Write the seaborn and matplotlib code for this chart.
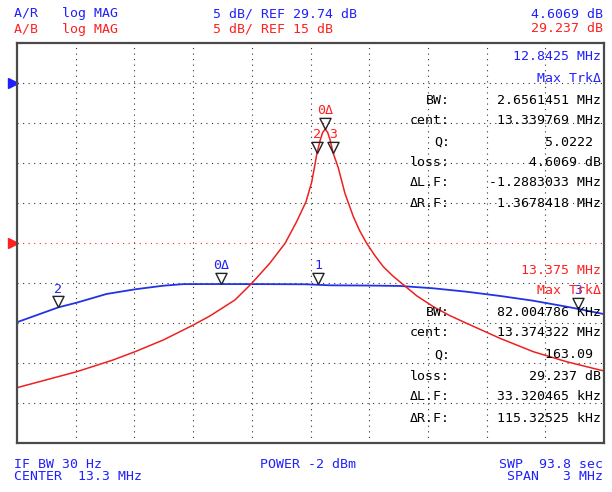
import numpy as np
import matplotlib
matplotlib.use("Agg")
import matplotlib.pyplot as plt
import seaborn as sns

# ---------------------------------------------------------------- DATA
F_START, F_STOP = 11.8, 14.8          # CENTER 13.3 MHz, SPAN 3 MHz
N_DIV = 10

# CH1  A/R log MAG, 5 dB/div, REF 29.74 dB at division 9
CH1_SCALE, CH1_REF, CH1_REFPOS = 5.0, 29.74, 9
ch1_freq = [11.80, 11.807, 12.012, 12.105, 12.258, 12.403, 12.547, 12.650, 12.848,
            13.050, 13.277, 13.400, 13.600, 13.757, 13.926, 14.098, 14.269, 14.437,
            14.609, 14.668, 14.780, 14.80]
ch1_db = [-0.20, -0.10, 1.70, 2.28, 3.37, 3.95, 4.40, 4.60, 4.607,
          4.60, 4.58, 4.45, 4.42, 4.37, 4.08, 3.65, 3.12, 2.53,
          1.78, 1.50, 0.95, 0.85]

# CH2  A/B log MAG, 5 dB/div, REF 15 dB at division 5
CH2_SCALE, CH2_REF, CH2_REFPOS = 5.0, 15.0, 5
ch2_freq = [11.80, 11.807, 12.105, 12.291, 12.403, 12.548, 12.701, 12.786, 12.914,
            12.999, 13.093, 13.170, 13.229, 13.277, 13.306, 13.322, 13.333, 13.350,
            13.362, 13.375, 13.388, 13.400, 13.415, 13.442, 13.476, 13.519, 13.550,
            13.587, 13.630, 13.672, 13.720, 13.766, 13.844, 13.928, 14.010, 14.098,
            14.268, 14.439, 14.609, 14.780, 14.80]
ch2_db = [-3.10, -3.04, -1.09, 0.38, 1.41, 2.88, 4.75, 5.88, 7.88,
          9.94, 12.50, 14.96, 17.66, 20.16, 22.60, 24.70, 26.24, 27.90,
          28.80, 29.237, 28.80, 27.90, 26.30, 24.40, 21.21, 18.29, 16.60,
          14.96, 13.40, 12.04, 10.90, 9.96, 8.38, 7.04, 5.95, 4.96,
          3.09, 1.41, 0.16, -0.88, -0.98]

# markers
ch1_mk_freq = [12.8425, 13.3398, 12.0116, 14.668]
ch1_mk_db = [4.607, 4.58, 1.70, 1.50]
ch1_mk_lbl = ["0Δ", "1", "2", "3"]
ch2_mk_freq = [13.375, 13.3333, 13.4153]
ch2_mk_db = [29.237, 26.24, 26.24]
ch2_mk_lbl = ["0Δ", "2", "3"]

ch1_rows = [("BW:", "2.6561451 MHz"), ("cent:", "13.339769 MHz"), ("Q:", "5.0222 "),
            ("loss:", "4.6069 dB"), ("ΔL.F:", "-1.2883033 MHz"), ("ΔR.F:", "1.3678418 MHz")]
ch2_rows = [("BW:", "82.004786 KHz"), ("cent:", "13.374322 MHz"), ("Q:", "163.09 "),
            ("loss:", "29.237 dB"), ("ΔL.F:", "33.320465 kHz"), ("ΔR.F:", "115.32525 kHz")]

BLUE, RED = "#2020ff", "#ff2020"
BLUE_LN, RED_LN = "#2233e6", "#ee2020"


def to_div(db, scale, ref, refpos):
    return refpos + (np.asarray(db) - ref) / scale


ch1_div = to_div(ch1_db, CH1_SCALE, CH1_REF, CH1_REFPOS)
ch2_div = to_div(ch2_db, CH2_SCALE, CH2_REF, CH2_REFPOS)

# ---------------------------------------------------------------- FIGURE
sns.set_style("white")
plt.rcParams["font.family"] = ["DejaVu Sans Mono", "DejaVu Sans"]
FS = 9.5
W, H = 612, 492
fig = plt.figure(figsize=(W / 100, H / 100), dpi=100)
ax = fig.add_axes([17 / W, (H - 443) / H, 587 / W, 400 / H])


def fx(x, y):
    return x / W, 1 - y / H


# graticule
ax.set_xlim(F_START, F_STOP); ax.set_ylim(0, N_DIV)
ax.set_xticks(np.linspace(F_START, F_STOP, N_DIV + 1)[1:-1])
ax.set_yticks([d for d in range(1, N_DIV) if d != CH2_REFPOS])
ax.grid(True, ls=(0, (1, 4)), lw=0.8, color="#333333")
ax.axhline(CH2_REFPOS, ls=(0, (1, 4)), lw=0.8, color=RED)
ax.tick_params(length=0, labelbottom=False, labelleft=False)
ax.set_xlabel(""); ax.set_ylabel("")
for s in ax.spines.values():
    s.set_color("#4a4a4a"); s.set_linewidth(1.6)

# traces
sns.lineplot(x=ch1_freq, y=ch1_div, ax=ax, color=BLUE_LN, lw=1.3, sort=False, estimator=None)
sns.lineplot(x=ch2_freq, y=ch2_div, ax=ax, color=RED_LN, lw=1.1, sort=False, estimator=None)

# reference position arrows (left of graticule)
yt = ax.get_yaxis_transform()
ax.plot([-0.007], [CH1_REFPOS], marker=">", ms=7, color=BLUE, transform=yt, clip_on=False)
ax.plot([-0.007], [CH2_REFPOS], marker=">", ms=7, color=RED, transform=yt, clip_on=False)

# marker triangles (tip on trace) + labels
tri = [(0, 0), (-0.5, 1), (0.5, 1), (0, 0)]
for fr, dv, lb, col in list(zip(ch1_mk_freq, to_div(ch1_mk_db, CH1_SCALE, CH1_REF, CH1_REFPOS),
                                ch1_mk_lbl, [BLUE] * 4)) + \
        list(zip(ch2_mk_freq, to_div(ch2_mk_db, CH2_SCALE, CH2_REF, CH2_REFPOS),
                 ch2_mk_lbl, [RED] * 3)):
    ax.plot([fr], [dv], marker=tri, ms=16, mfc="none", mec="#222222", mew=1.0, zorder=5)
    ax.annotate(lb, (fr, dv), xytext=(0, 8.5), textcoords="offset points",
                ha="center", va="bottom", color=col, fontsize=FS, zorder=6)

# readout blocks
fig.text(*fx(601, 56), "12.8425 MHz", color=BLUE, fontsize=FS, ha="right", va="center")
fig.text(*fx(601, 78), "Max TrkΔ", color=BLUE, fontsize=FS, ha="right", va="center")
for (lab, val), y in zip(ch1_rows, [100, 121, 142, 162, 183, 204]):
    fig.text(*fx(450, y), lab, color="black", fontsize=FS, ha="right", va="center")
    fig.text(*fx(601, y), val, color="black", fontsize=FS, ha="right", va="center")
fig.text(*fx(601, 270), "13.375 MHz", color=RED, fontsize=FS, ha="right", va="center")
fig.text(*fx(601, 291), "Max TrkΔ", color=RED, fontsize=FS, ha="right", va="center")
for (lab, val), y in zip(ch2_rows, [312, 333, 355, 376, 397, 418]):
    fig.text(*fx(450, y), lab, color="black", fontsize=FS, ha="right", va="center")
    fig.text(*fx(601, y), val, color="black", fontsize=FS, ha="right", va="center")

# header / footer
fig.text(*fx(14, 14), "A/R   log MAG", color=BLUE, fontsize=FS, va="center")
fig.text(*fx(14, 29), "A/B   log MAG", color=RED, fontsize=FS, va="center")
fig.text(*fx(213, 14), "5 dB/ REF 29.74 dB", color=BLUE, fontsize=FS, va="center")
fig.text(*fx(213, 29), "5 dB/ REF 15 dB", color=RED, fontsize=FS, va="center")
fig.text(*fx(603, 14), "4.6069 dB", color=BLUE, fontsize=FS, ha="right", va="center")
fig.text(*fx(603, 29), "29.237 dB", color=RED, fontsize=FS, ha="right", va="center")

fig.text(*fx(14, 464), "IF BW 30 Hz", color=BLUE, fontsize=FS, va="center")
fig.text(*fx(14, 477), "CENTER  13.3 MHz", color=BLUE, fontsize=FS, va="center")
fig.text(*fx(260, 464), "POWER -2 dBm", color=BLUE, fontsize=FS, va="center")
fig.text(*fx(603, 464), "SWP  93.8 sec", color=BLUE, fontsize=FS, ha="right", va="center")
fig.text(*fx(603, 477), "SPAN   3 MHz", color=BLUE, fontsize=FS, ha="right", va="center")

fig.savefig("out.png", dpi=100, facecolor="white")
